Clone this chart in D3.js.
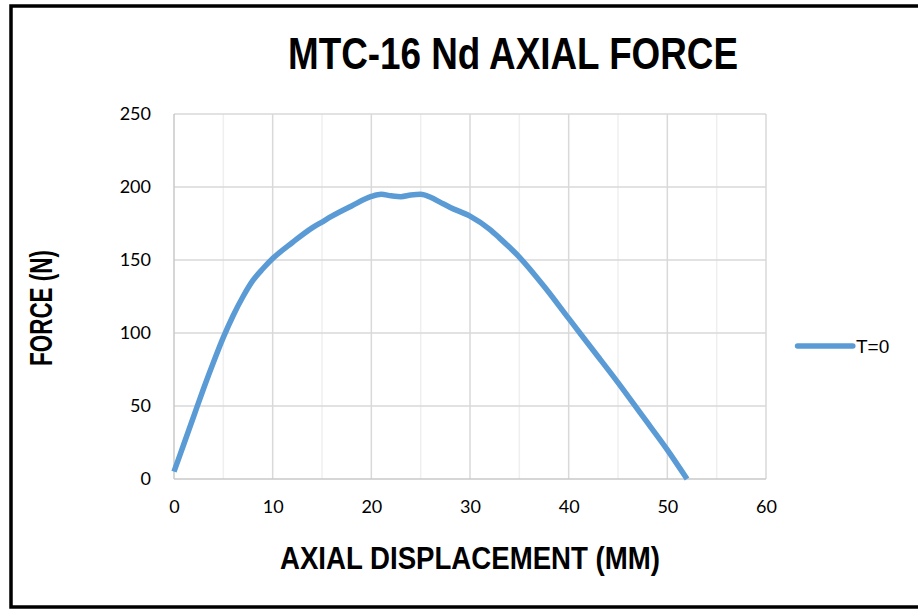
<!DOCTYPE html>
<html>
<head>
<meta charset="utf-8">
<script src="https://cdn.jsdelivr.net/npm/d3@7"></script>
<style>
  html, body { margin: 0; padding: 0; background: #fff; }
  svg { display: block; }
</style>
</head>
<body>
<svg id="chart" width="918" height="609"></svg>
<script>
const chartTitle = "MTC-16 Nd AXIAL FORCE";
const xTitle = "AXIAL DISPLACEMENT (MM)";
const yTitle = "FORCE (N)";
const seriesName = "T=0";
const xTicks = [0, 10, 20, 30, 40, 50, 60];
const yTicks = [0, 50, 100, 150, 200, 250];
const displacement = [0, 1, 2, 3, 4, 5, 6, 7, 8, 9, 10, 12, 14, 15, 16, 18, 20, 21, 22, 23, 24, 25, 26, 27, 28, 30, 32, 33, 35, 37.5, 40, 42.5, 45, 47.5, 50, 52];
const force = [5, 24, 43, 62, 80, 97, 112, 125, 136, 144, 151, 162, 172, 176, 180, 187, 193.5, 195, 194, 193.4, 194.5, 195, 193, 189.5, 186, 180, 171, 165, 152, 132, 110, 88, 66, 43, 20, 0];

const svg = d3.select("#chart");
const m = { left: 174, right: 766, top: 114, bottom: 479 };

// outer frame
svg.append("rect").attr("x", 11).attr("y", 6).attr("width", 920).attr("height", 601)
  .attr("fill", "none").attr("stroke", "#000").attr("stroke-width", 3.5);

const x = d3.scaleLinear().domain([0, 60]).range([m.left, m.right]);
const y = d3.scaleLinear().domain([0, 250]).range([m.bottom, m.top]);

const g = svg.append("g");
g.selectAll(".minor").data(d3.range(5, 60, 10)).enter().append("line")
  .attr("x1", d => x(d)).attr("x2", d => x(d)).attr("y1", m.top).attr("y2", m.bottom)
  .attr("stroke", "#efefef").attr("stroke-width", 1.5);
g.selectAll(".vmaj").data(xTicks.slice(1)).enter().append("line")
  .attr("x1", d => x(d)).attr("x2", d => x(d)).attr("y1", m.top).attr("y2", m.bottom)
  .attr("stroke", "#d9d9d9").attr("stroke-width", 1.5);
g.selectAll(".hmaj").data(yTicks.slice(1)).enter().append("line")
  .attr("x1", m.left).attr("x2", m.right).attr("y1", d => y(d)).attr("y2", d => y(d))
  .attr("stroke", "#d9d9d9").attr("stroke-width", 1.5);
g.append("line").attr("x1", m.left).attr("x2", m.left).attr("y1", m.top).attr("y2", m.bottom)
  .attr("stroke", "#c8c8c8").attr("stroke-width", 1.5);
g.append("line").attr("x1", m.left).attr("x2", m.right).attr("y1", m.bottom).attr("y2", m.bottom)
  .attr("stroke", "#c8c8c8").attr("stroke-width", 1.5);

const xAxis = d3.axisBottom(x).tickValues(xTicks).tickSize(0).tickPadding(0);
const xa = svg.append("g").attr("transform", `translate(0,${m.bottom + 21})`).call(xAxis);
xa.select(".domain").remove();
xa.selectAll("text").attr("font-family", "Lato, 'Open Sans', sans-serif").attr("font-size", 18)
  .attr("fill", "#000").attr("dy", "0.71em");

const yAxis = d3.axisLeft(y).tickValues(yTicks).tickSize(0).tickPadding(0);
const ya = svg.append("g").attr("transform", `translate(${m.left - 23},0)`).call(yAxis);
ya.select(".domain").remove();
ya.selectAll("text").attr("font-family", "Lato, 'Open Sans', sans-serif").attr("font-size", 18)
  .attr("fill", "#000");

const line = d3.line().x((d, i) => x(displacement[i])).y((d, i) => y(force[i])).curve(d3.curveMonotoneX);
svg.append("path").datum(force).attr("d", line).attr("fill", "none")
  .attr("stroke", "#5b9bd5").attr("stroke-width", 5.5).attr("stroke-linejoin", "round");

const narrow = "'Liberation Sans Narrow', 'Arial Narrow', 'Liberation Sans', sans-serif";
svg.append("text").attr("x", 513).attr("y", 69).attr("text-anchor", "middle")
  .attr("font-family", narrow).attr("font-weight", "bold").attr("font-size", 45)
  .attr("textLength", 450).attr("lengthAdjust", "spacingAndGlyphs").text(chartTitle);
svg.append("text").attr("x", 470).attr("y", 569).attr("text-anchor", "middle")
  .attr("font-family", narrow).attr("font-weight", "bold").attr("font-size", 31)
  .attr("textLength", 380).attr("lengthAdjust", "spacingAndGlyphs").text(xTitle);
svg.append("text").attr("transform", "translate(52,308) rotate(-90)").attr("text-anchor", "middle")
  .attr("font-family", narrow).attr("font-weight", "bold").attr("font-size", 31)
  .attr("textLength", 116).attr("lengthAdjust", "spacingAndGlyphs").text(yTitle);

svg.append("line").attr("x1", x(63.2)).attr("x2", x(68.8)).attr("y1", 346).attr("y2", 346)
  .attr("stroke", "#5b9bd5").attr("stroke-width", 5.5).attr("stroke-linecap", "round");
svg.append("text").attr("x", 856).attr("y", 346).attr("dy", "0.35em")
  .attr("font-family", "'Liberation Sans', Arial, sans-serif").attr("font-size", 19)
  .attr("fill", "#000").text(seriesName);
</script>
</body>
</html>
